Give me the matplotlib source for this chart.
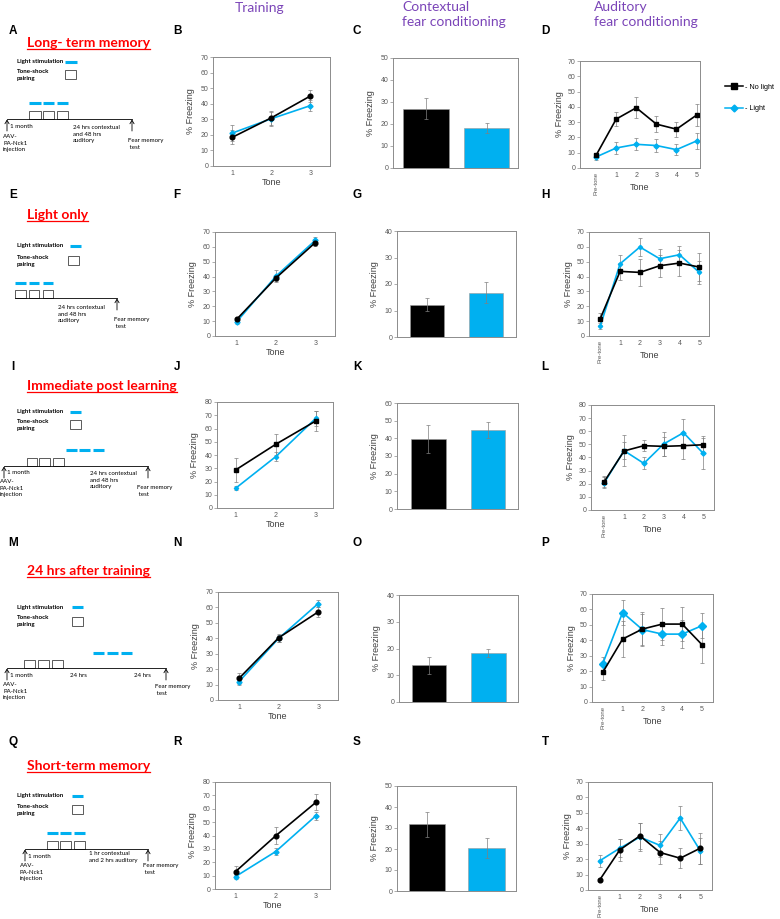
import numpy as np
import matplotlib.pyplot as plt
from matplotlib.lines import Line2D
from matplotlib.patches import Rectangle

plt.rcParams['font.family'] = ['Liberation Sans', 'DejaVu Sans']

BLACK = '#000000'
BLUE = '#00B0F0'
GREY = '#808080'
PURPLE = '#7B45B8'
RED = '#FF0000'

# data
experiments = ["Long- term memory", "Light only", "Immediate post learning",
               "24 hrs after training", "Short-term memory"]
groups = ["No light", "Light"]
train_tones = [1, 2, 3]
aud_tones = ["Pre-tone", "1", "2", "3", "4", "5"]

train_nolight = [[18.5, 31, 45], [11.2, 39.1, 62.9], [28.8, 48.1, 65.7],
                 [14, 40.3, 57.1], [13, 39.8, 64.8]]
train_nolight_err = [[4.5, 4.5, 4], [1.5, 2, 2.5], [9.3, 7.8, 7.5],
                     [3.5, 2.5, 3.5], [4, 6.5, 6]]
train_light = [[21.2, 30.4, 38.8], [9.6, 40.3, 64.4], [15, 38.8, 67.7],
               [11.9, 39.9, 62.5], [9.3, 28, 54.8]]
train_light_err = [[5, 4.5, 3.5], [1.5, 4, 2.5], [1.5, 3.5, 5.5],
                   [2, 2, 2.5], [1.5, 2.5, 3]]

ctx_mean = [[27, 18], [12.2, 16.7], [39.6, 44.7], [13.7, 18.5], [31.7, 20.3]]
ctx_err = [[4.8, 2.3], [2.5, 4], [7.8, 4.3], [3.3, 1.5], [5.8, 4.8]]

aud_nolight = [[8.3, 32, 39.4, 28.7, 25.4, 34.6],
               [11.7, 43.5, 42.8, 47.3, 49.1, 46.4],
               [21.6, 45, 49, 48.5, 49, 49.7],
               [19.2, 40.8, 47.3, 50.5, 50.5, 37.1],
               [6.5, 26, 35.1, 24.3, 20.6, 27.1]]
aud_nolight_err = [[1.5, 4.4, 6.8, 5.4, 5, 7],
                   [4, 5.5, 9, 7.5, 8.5, 9.5],
                   [4, 6.5, 4, 7, 10, 6.5],
                   [5, 11.5, 11, 10.5, 11, 11.5],
                   [1.5, 7, 8.5, 7.5, 6.5, 10]]
aud_light = [[7.2, 13.1, 15.5, 14.7, 12, 17.7],
             [6.8, 48.6, 59.9, 52, 54.7, 42.8],
             [20.8, 45.2, 35.5, 50.3, 58.9, 43.1],
             [24.8, 58, 46.9, 44, 44, 49.5],
             [18.9, 27.1, 34.3, 28.9, 46.6, 25.4]]
aud_light_err = [[2, 4, 4, 4.5, 3.5, 5],
                 [2, 6, 6, 6.5, 6, 7.5],
                 [4, 12, 4.5, 9, 10.5, 12],
                 [4.5, 8, 10, 7, 9, 8],
                 [4, 6, 9, 7.5, 8, 8.5]]

# layout (pixel boxes: left, top, right, bottom)
W, H = 780, 919
train_box = [(213, 57, 330, 166), (215, 232, 335, 336), (217, 402, 333, 508),
             (218, 592, 338, 700), (215, 782, 330, 889)]
ctx_box = [(393, 58, 518, 168), (397, 231, 516, 337), (397, 403, 518, 509),
           (399, 595, 518, 702), (397, 786, 516, 891)]
aud_box = [(580, 61, 700, 168), (589, 232, 709, 336), (591, 405, 714, 510),
           (592, 594, 713, 702), (588, 782, 712, 890)]
train_ymax = [70, 70, 80, 70, 80]
ctx_ymax = [50, 40, 60, 40, 50]
aud_ymax = [70, 70, 80, 70, 70]
train_xlim = [(0.5, 3.5), (0.45, 3.5), (0.53, 3.43), (0.47, 3.5), (0.49, 3.35)]
aud_xlim = [(-0.8, 5.17), (-0.57, 5.49), (-0.67, 5.54), (-0.54, 5.55), (-0.58, 5.58)]
ctx_xlim = [(-0.54, 1.515), (-0.513, 1.504), (-0.52, 1.5), (-0.51, 1.5), (-0.505, 1.495)]
ctx_width = [0.75, 0.57, 0.58, 0.58, 0.62]
train_marker = ['o', 'o', 's', 'o', 'o']
aud_marker = ['s', 's', 's', 's', 'o']
light_ms = [2.6, 2.6, 2.2, 2.6, 2.6]
aud_light_ms = [2.6, 2.2, 2.6, 3.6, 2.4]

fig = plt.figure(figsize=(W / 100, H / 100), dpi=100)

# overlay in pixel coords for the schematics and labels
ov = fig.add_axes([0, 0, 1, 1])
ov.set_xlim(0, W)
ov.set_ylim(H, 0)
ov.axis('off')


def add_axes(box):
    l, t, r, b = box
    return fig.add_axes([l / W, 1 - b / H, (r - l) / W, (b - t) / H])


def style(ax, ymax, pad):
    ax.set_ylim(0, ymax)
    ax.set_yticks(range(0, ymax + 1, 10))
    for s in ax.spines.values():
        s.set_color('#8c8c8c')
        s.set_linewidth(0.7)
    ax.tick_params(axis='y', length=2, width=0.5, color='#8c8c8c', labelsize=5,
                   labelcolor='#595959', pad=1.5)
    ax.tick_params(axis='x', length=0, labelsize=5, labelcolor='#595959', pad=3)
    ax.set_ylabel('% Freezing', fontsize=6.5, color='#404040', labelpad=pad)


err_kw = dict(ecolor=GREY, elinewidth=0.5, capsize=1.5, capthick=0.5)

for i in range(5):
    # training
    ax = add_axes(train_box[i])
    h = train_box[i][3] - train_box[i][1]
    ax.errorbar(train_tones, train_light[i], yerr=train_light_err[i], color=BLUE,
                marker='D', ms=light_ms[i], lw=1.2, **err_kw)
    ax.errorbar(train_tones, train_nolight[i], yerr=train_nolight_err[i], color=BLACK,
                marker=train_marker[i], ms=3.4, lw=1.2, **err_kw)
    style(ax, train_ymax[i], 4)
    ax.set_xlim(*train_xlim[i])
    ax.set_xticks(train_tones)
    ax.set_xlabel('Tone', fontsize=6.5, color='#404040')
    ax.xaxis.set_label_coords(0.5, -12 / h)

    # contextual
    ax = add_axes(ctx_box[i])
    ax.bar([0, 1], ctx_mean[i], ctx_width[i], color=[BLACK, BLUE], edgecolor='#9a9a9a',
           linewidth=0.4, yerr=ctx_err[i], error_kw=err_kw)
    style(ax, ctx_ymax[i], 4)
    ax.set_xlim(*ctx_xlim[i])
    ax.set_xticks([])

    # auditory
    ax = add_axes(aud_box[i])
    h = aud_box[i][3] - aud_box[i][1]
    x = np.arange(len(aud_tones))
    ax.errorbar(x, aud_light[i], yerr=aud_light_err[i], color=BLUE,
                marker='D', ms=aud_light_ms[i], lw=1.2, **err_kw)
    ax.errorbar(x, aud_nolight[i], yerr=aud_nolight_err[i], color=BLACK,
                marker=aud_marker[i], ms=3.4, lw=1.2, **err_kw)
    style(ax, aud_ymax[i], 2.5)
    ax.set_xlim(*aud_xlim[i])
    ax.set_xticks(x)
    ax.set_xticklabels(aud_tones)
    ax.get_xticklabels()[0].set_rotation(90)
    ax.get_xticklabels()[0].set_fontsize(4.3)
    ax.set_xlabel('Tone', fontsize=6.5, color='#404040')
    ax.xaxis.set_label_coords(0.5, -15 / h)

# legend
leg_handles = [Line2D([], [], color=BLACK, marker='s', ms=4, lw=1.1),
               Line2D([], [], color=BLUE, marker='D', ms=3.5, lw=1.1)]
fig.legend(leg_handles, ['- ' + g for g in groups], loc='center left',
           bbox_to_anchor=(721 / W, 1 - 98 / H), frameon=False, fontsize=5.2,
           handlelength=2.6, labelspacing=2.0, handletextpad=0.2, borderpad=0)

# column titles
ov.text(260, 8, 'Training', fontsize=10, color=PURPLE, family='Lato', ha='center', va='center')
ov.text(402, 1, 'Contextual\nfear conditioning', fontsize=10, color=PURPLE, family='Lato',
        ha='left', va='top', linespacing=1.25)
ov.text(594, 1, 'Auditory\nfear conditioning', fontsize=10, color=PURPLE, family='Lato',
        ha='left', va='top', linespacing=1.25)

# panel letters
letter_rows = [31, 195, 367, 543, 742]
letters = ['ABCD', 'EFGH', 'IJKL', 'MNOP', 'QRST']
for y, row in zip(letter_rows, letters):
    for x, c in zip([13, 177, 357, 545], row):
        ov.text(x, y, c, fontsize=8.5, fontweight='bold', ha='center', va='center')

# schematics
rows = [
    dict(head=43, light=62, tone=72, tsq=(65, 70), ldash=(65, 77), dash_y=103,
         boxes=[(29, 41), (43, 54), (57, 68)], dash=[(29, 41), (43, 54), (57, 68)],
         line=(7, 132, 119), arrows=[7, 132],
         texts=[('1 month', 10, 127), ('AAV-\nPA-Nck1\ninjection', 3, 137),
                ('24 hrs contextual\nand 48 hrs\nauditory', 73, 128), ('Fear memory\n test', 128, 141)]),
    dict(head=215, light=246, tone=258, tsq=(68, 256), ldash=(70, 81), dash_y=283,
         boxes=[(15, 26), (29, 39), (43, 53)], dash=[(15, 26), (29, 39), (43, 53)],
         line=(15, 117, 298), arrows=[117],
         texts=[('24 hrs contextual\nand 48 hrs\nauditory', 58, 308), ('Fear memory\n test', 114, 320)]),
    dict(head=386, light=412, tone=422, tsq=(70, 420), ldash=(70, 81), dash_y=450,
         boxes=[(27, 37), (39, 50), (53, 64)], dash=[(66, 77), (79, 90), (93, 104)],
         line=(4, 148, 466), arrows=[4, 148],
         texts=[('1 month', 7, 473), ('AAV-\nPA-Nck1\ninjection', 0, 482),
                ('24 hrs contextual\nand 48 hrs\nauditory', 90, 474), ('Fear memory\n test', 137, 488)]),
    dict(head=571, light=607, tone=618, tsq=(72, 617), ldash=(72, 83), dash_y=653,
         boxes=[(24, 35), (38, 49), (52, 63)], dash=[(93, 104), (107, 118), (121, 132)],
         line=(7, 166, 668), arrows=[7, 166],
         texts=[('1 month', 10, 676), ('AAV-\nPA-Nck1\ninjection', 3, 685),
                ('24 hrs', 70, 676), ('24 hrs', 134, 676), ('Fear memory\n test', 155, 687)]),
    dict(head=766, light=796, tone=807, tsq=(72, 805), ldash=(72, 83), dash_y=833,
         boxes=[(47, 58), (60, 71), (74, 85)], dash=[(47, 58), (60, 71), (74, 85)],
         line=(25, 148, 849), arrows=[25, 148],
         texts=[('1 month', 28, 857), ('AAV-\nPA-Nck1\ninjection', 20, 866),
                ('1 hr contextual\nand 2 hrs auditory', 89, 854), ('Fear memory\n test', 143, 866)]),
]

heads = []
for name, r in zip(experiments, rows):
    t = ov.text(27, r['head'] + 4, name, fontsize=10, fontweight='bold', color=RED,
                family='Lato', ha='left', va='baseline')
    heads.append((t, r['head'] + 6))
    ov.text(17, r['light'], 'Light stimulation', fontsize=4.4, fontweight='bold',
            family='Lato', ha='left', va='center')
    ov.text(17, r['tone'] - 3, 'Tone-shock\npairing', fontsize=4.4, fontweight='bold',
            family='Lato', ha='left', va='top', linespacing=1.4)
    ov.plot(r['ldash'], [r['light']] * 2, color=BLUE, lw=2.2, solid_capstyle='butt')
    ov.add_patch(Rectangle(r['tsq'], 11, 9, fill=False, edgecolor='#404040', lw=0.6))
    x0, x1, ly = r['line']
    ov.plot([x0, x1], [ly, ly], color=BLACK, lw=0.6)
    for a, b in r['boxes']:
        ov.add_patch(Rectangle((a, ly - 8), b - a, 8, fill=False, edgecolor='#404040', lw=0.6))
    for a, b in r['dash']:
        ov.plot([a, b], [r['dash_y']] * 2, color=BLUE, lw=2.2, solid_capstyle='butt')
    for ax_ in r['arrows']:
        ov.annotate('', xy=(ax_, ly + 0.5), xytext=(ax_, ly + 12),
                    arrowprops=dict(arrowstyle='->,head_length=0.25,head_width=0.15',
                                    lw=0.6, color=BLACK, shrinkA=0, shrinkB=0))
    for s, tx, ty in r['texts']:
        ov.text(tx, ty - 3, s, fontsize=4.4, family='Lato', ha='left', va='top',
                linespacing=1.4)

# underline headings
fig.canvas.draw()
inv = ov.transData.inverted()
for t, uy in heads:
    bb = t.get_window_extent()
    (xa, _), (xb, _) = inv.transform([(bb.x0, bb.y0), (bb.x1, bb.y0)])
    ov.plot([xa, xb], [uy, uy], color=RED, lw=0.9)

fig.savefig('out.png', dpi=100)
